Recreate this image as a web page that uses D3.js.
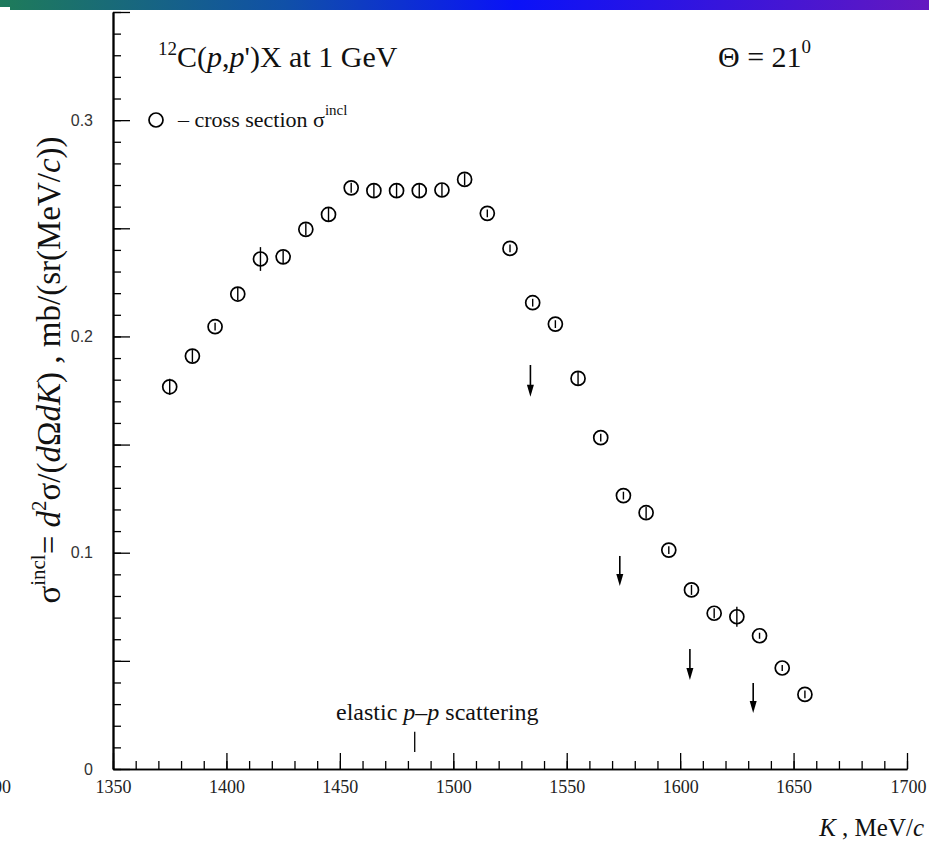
<!DOCTYPE html>
<html>
<head>
<meta charset="utf-8">
<script src="https://cdn.jsdelivr.net/npm/d3@7"></script>
<style>
  body { margin: 0; background: #fff; }
  svg { display: block; }
  .serif { font-family: "Liberation Serif", "Times New Roman", serif; }
</style>
</head>
<body>
<div id="chart"></div>
<script>
const width = 929
const height = 842
const margin = {top: 12, right: 22, bottom: 73, left: 113}

// kinetic energy K (MeV/c) of the measured points
const kValues = [1375, 1385, 1395, 1405, 1415, 1425, 1435, 1445, 1455, 1465,
                 1475, 1485, 1495, 1505, 1515, 1525, 1535, 1545, 1555, 1565,
                 1575, 1585, 1595, 1605, 1615, 1625, 1635, 1645, 1655]
// inclusive cross section, mb/(sr(MeV/c))
const sigmaValues = [0.1767, 0.1909, 0.2045, 0.2196, 0.2358, 0.2368, 0.2495, 0.2564, 0.2687, 0.2674,
                     0.2674, 0.2674, 0.2677, 0.2726, 0.2569, 0.2407, 0.2156, 0.2057, 0.1806, 0.1532,
                     0.1264, 0.1185, 0.1012, 0.0828, 0.0720, 0.0704, 0.0616, 0.0467, 0.0345]
const sigmaErrors = [0.0037, 0.0028, 0.0018, 0.0028, 0.0055, 0.0028, 0.0028, 0.0032, 0.0023, 0.0032,
                     0.0032, 0.0032, 0.0032, 0.0028, 0.0018, 0.0018, 0.0018, 0.0018, 0.0032, 0.0018,
                     0.0018, 0.0028, 0.0018, 0.0023, 0.0023, 0.0046, 0.0014, 0.0014, 0.0018]

// down arrows drawn on the plot
const arrowK = [1534, 1573.4, 1604.3, 1632.2]
const arrowTop = [0.1868, 0.0985, 0.0555, 0.0398]
const arrowBottom = [0.1721, 0.0846, 0.0411, 0.0259]

// elastic p-p scattering marker
const elasticK = 1483
const elasticRange = [0.0079, 0.0172]

const xMajorTicks = [1350, 1400, 1450, 1500, 1550, 1600, 1650, 1700]
const yLabelTicks = [0, 0.1, 0.2, 0.3]
const yMediumTicks = [0.05, 0.15, 0.25, 0.35]

const data = kValues.map((k, i) => ({k: k, s: sigmaValues[i], e: sigmaErrors[i]}))

const svg = d3.select("div#chart").append("svg").attr("width", width).attr("height", height)

// header band
const grad = svg.append("defs").append("linearGradient").attr("id", "band")
grad.append("stop").attr("offset", "0%").attr("stop-color", "#1e7a5c")
grad.append("stop").attr("offset", "30%").attr("stop-color", "#1050a8")
grad.append("stop").attr("offset", "55%").attr("stop-color", "#0a12f8")
grad.append("stop").attr("offset", "100%").attr("stop-color", "#6418c0")
svg.append("rect").attr("x", 0).attr("y", 0).attr("width", width).attr("height", 7).attr("fill", "url(#band)")
svg.append("rect").attr("x", 10).attr("y", 0).attr("width", width - 10).attr("height", 10).attr("fill", "url(#band)")

const x = d3.scaleLinear().domain([1350, 1700]).range([margin.left, width - margin.right])
const y = d3.scaleLinear().domain([0, 0.35]).range([height - margin.bottom, margin.top])

const axisGroup = svg.append("g").attr("class", "axisGroup")

// x axis: ticks point up into the plot, labels below
const xMinor = d3.axisBottom(x).tickValues(d3.range(1350, 1701, 10)).tickSize(-8).tickSizeOuter(0).tickFormat("")
const xMajor = d3.axisBottom(x).tickValues(xMajorTicks).tickSize(-16).tickSizeOuter(0).tickPadding(11).tickFormat(d3.format("d"))
axisGroup.append("g").attr("transform", `translate(0, ${y(0)})`).call(xMinor)
const xLab = axisGroup.append("g").attr("transform", `translate(0, ${y(0)})`).call(xMajor)
xLab.selectAll("text").attr("font-family", "Liberation Serif").attr("font-size", 18).attr("fill", "#222")
xLab.selectAll(".tick:last-of-type text").attr("text-anchor", "end").attr("dx", 19)

// y axis: ticks point right
const yMinor = d3.axisLeft(y).tickValues(d3.range(0, 36).map(d => d / 100)).tickSize(-8).tickSizeOuter(0).tickFormat("")
const yMedium = d3.axisLeft(y).tickValues(yMediumTicks).tickSize(-17).tickSizeOuter(0).tickFormat("")
const yMajor = d3.axisLeft(y).tickValues(yLabelTicks).tickSize(-17).tickSizeOuter(0).tickPadding(20).tickFormat(d => d === 0 ? "0" : d3.format(".1f")(d))
axisGroup.append("g").attr("transform", `translate(${x(1350)}, 0)`).call(yMinor)
axisGroup.append("g").attr("transform", `translate(${x(1350)}, 0)`).call(yMedium)
const yLab = axisGroup.append("g").attr("transform", `translate(${x(1350)}, 0)`).call(yMajor)
yLab.selectAll("text").attr("font-family", "Liberation Sans").attr("font-size", 16).attr("fill", "#333")

axisGroup.selectAll(".domain").attr("stroke", "#000").attr("stroke-width", 1.6)
axisGroup.selectAll(".tick line").attr("stroke", "#000").attr("stroke-width", 1.3)

// clipped label to the left, as in the scan
svg.append("text").text("1300").attr("x", 11).attr("y", y(0) + 24)
   .attr("text-anchor", "end").attr("font-family", "Liberation Serif").attr("font-size", 18).attr("fill", "#222")

// data points
const elementGroup = svg.append("g").attr("class", "elementGroup")
elementGroup.selectAll("line.err").data(data).enter().append("line")
    .attr("class", "err")
    .attr("x1", d => x(d.k)).attr("x2", d => x(d.k))
    .attr("y1", d => y(d.s - d.e)).attr("y2", d => y(d.s + d.e))
    .attr("stroke", "#000").attr("stroke-width", 1.4)
elementGroup.selectAll("circle").data(data).enter().append("circle")
    .attr("cx", d => x(d.k)).attr("cy", d => y(d.s)).attr("r", 7)
    .attr("fill", "none").attr("stroke", "#000").attr("stroke-width", 1.7)

// arrows
const arrows = arrowK.map((k, i) => ({k: k, t: arrowTop[i], b: arrowBottom[i]}))
const arrowG = svg.append("g").selectAll("g").data(arrows).enter().append("g")
arrowG.append("line")
    .attr("x1", d => x(d.k)).attr("x2", d => x(d.k))
    .attr("y1", d => y(d.t)).attr("y2", d => y(d.b) - 8)
    .attr("stroke", "#000").attr("stroke-width", 1.6)
arrowG.append("path")
    .attr("d", d => `M${x(d.k) - 3.5},${y(d.b) - 12} L${x(d.k) + 3.5},${y(d.b) - 12} L${x(d.k)},${y(d.b)} Z`)
    .attr("fill", "#000")

// elastic p-p marker
svg.append("line")
    .attr("x1", x(elasticK)).attr("x2", x(elasticK))
    .attr("y1", y(elasticRange[0])).attr("y2", y(elasticRange[1]))
    .attr("stroke", "#000").attr("stroke-width", 1.3)
const el = svg.append("text").attr("class", "serif").attr("x", 336).attr("y", 720)
    .attr("font-size", 24).attr("fill", "#111")
el.append("tspan").text("elastic ")
el.append("tspan").attr("font-style", "italic").text("p")
el.append("tspan").text("–")
el.append("tspan").attr("font-style", "italic").text("p")
el.append("tspan").text(" scattering")

// title
const title = svg.append("text").attr("class", "serif").attr("x", 158).attr("y", 67).attr("font-size", 30).attr("fill", "#111")
title.append("tspan").attr("font-size", 19).attr("dy", -12).text("12")
title.append("tspan").attr("dy", 12).text("C(")
title.append("tspan").attr("font-style", "italic").text("p")
title.append("tspan").text(",")
title.append("tspan").attr("font-style", "italic").text("p")
title.append("tspan").text("')X at 1 GeV")

const theta = svg.append("text").attr("class", "serif").attr("x", 718).attr("y", 67).attr("font-size", 30).attr("fill", "#111")
theta.append("tspan").text("Θ = 21")
theta.append("tspan").attr("font-size", 19).attr("dy", -14).text("0")

// legend
svg.append("circle").attr("cx", 156).attr("cy", 120).attr("r", 7)
   .attr("fill", "none").attr("stroke", "#000").attr("stroke-width", 1.7)
const leg = svg.append("text").attr("class", "serif").attr("x", 178).attr("y", 127).attr("font-size", 22).attr("fill", "#111")
leg.append("tspan").text("– cross section σ")
leg.append("tspan").attr("font-size", 15).attr("dy", -12).text("incl")

// y axis title
const yt = svg.append("text").attr("class", "serif")
    .attr("transform", `translate(60, 370) rotate(-90)`)
    .attr("text-anchor", "middle").attr("font-size", 33).attr("fill", "#111")
yt.append("tspan").text("σ")
yt.append("tspan").attr("font-size", 21).attr("dy", -15).text("incl")
yt.append("tspan").attr("dy", 15).text("=  ")
yt.append("tspan").attr("font-style", "italic").text("d")
yt.append("tspan").attr("font-size", 21).attr("dy", -14).text("2")
yt.append("tspan").attr("dy", 14).text("σ/(")
yt.append("tspan").attr("font-style", "italic").text("d")
yt.append("tspan").text("Ω")
yt.append("tspan").attr("font-style", "italic").text("dK")
yt.append("tspan").text(") , mb/(sr(MeV/")
yt.append("tspan").attr("font-style", "italic").text("c")
yt.append("tspan").text("))")

// x axis title
const xt = svg.append("text").attr("class", "serif").attr("x", 924).attr("y", 836)
    .attr("text-anchor", "end").attr("font-size", 25).attr("fill", "#111")
xt.append("tspan").attr("font-style", "italic").text("K")
xt.append("tspan").text(" , MeV/")
xt.append("tspan").attr("font-style", "italic").text("c")
</script>
</body>
</html>
